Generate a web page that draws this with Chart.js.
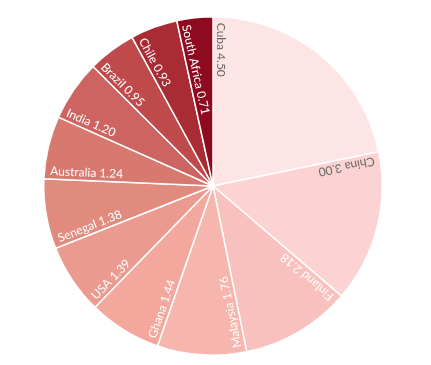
<!DOCTYPE html>
<html>
<head>
<meta charset="utf-8">
<script src="https://cdn.jsdelivr.net/npm/chart.js@4"></script>
<style>
    html, body { margin: 0; padding: 0; background: #fff; }
    #wrap { width: 431px; height: 365px; }
</style>
</head>
<body>
<div id="wrap"><canvas id="pieChart" width="431" height="365"></canvas></div>
<script>
// Chart data
const countries = ['Cuba', 'China', 'Finland', 'Malaysia', 'Ghana', 'USA', 'Senegal',
    'Australia', 'India', 'Brazil', 'Chile', 'South Africa'];
const values = [4.50, 3.00, 2.18, 1.76, 1.44, 1.39, 1.38, 1.24, 1.20, 0.95, 0.93, 0.71];

// Slice colours, light to dark
const sliceColors = ['#fde5e6', '#fbd3d3', '#f8c1bd', '#f6b5ad', '#f4a89d', '#eb9a8f',
    '#e18b7f', '#d7796e', '#cd6461', '#bf4a4c', '#a92b34', '#8d0a1f'];
const labelColors = ['#666666', '#666666', '#ffffff', '#ffffff', '#ffffff', '#ffffff',
    '#ffffff', '#ffffff', '#ffffff', '#ffffff', '#ffffff', '#ffffff'];

// Draw labels along the start edge of each slice, reading inward
const radialLabels = {
    id: 'radialLabels',
    afterDatasetsDraw: (chart) => {
        const ctx = chart.ctx;
        const meta = chart.getDatasetMeta(0);
        ctx.save();
        ctx.font = '12px Lato, "DejaVu Sans", sans-serif';
        ctx.textAlign = 'left';
        ctx.textBaseline = 'alphabetic';
        meta.data.forEach((arc, i) => {
            const p = arc.getProps(['x', 'y', 'startAngle', 'outerRadius'], true);
            ctx.save();
            ctx.translate(p.x, p.y);
            ctx.rotate(p.startAngle + Math.PI);
            ctx.fillStyle = labelColors[i];
            ctx.fillText(countries[i] + ' ' + values[i].toFixed(2), -(p.outerRadius - 6), -4);
            ctx.restore();
        });
        ctx.restore();
    }
};

new Chart(document.getElementById('pieChart'), {
    type: 'pie',
    data: {
        labels: countries,
        datasets: [{
            data: values,
            backgroundColor: sliceColors,
            borderColor: '#ffffff',
            borderWidth: 1.5
        }]
    },
    options: {
        responsive: false,
        animation: false,
        layout: { padding: { top: 16, bottom: 9, left: 43, right: 48 } },
        plugins: {
            legend: { display: false },
            tooltip: { enabled: false }
        }
    },
    plugins: [radialLabels]
});
</script>
</body>
</html>
